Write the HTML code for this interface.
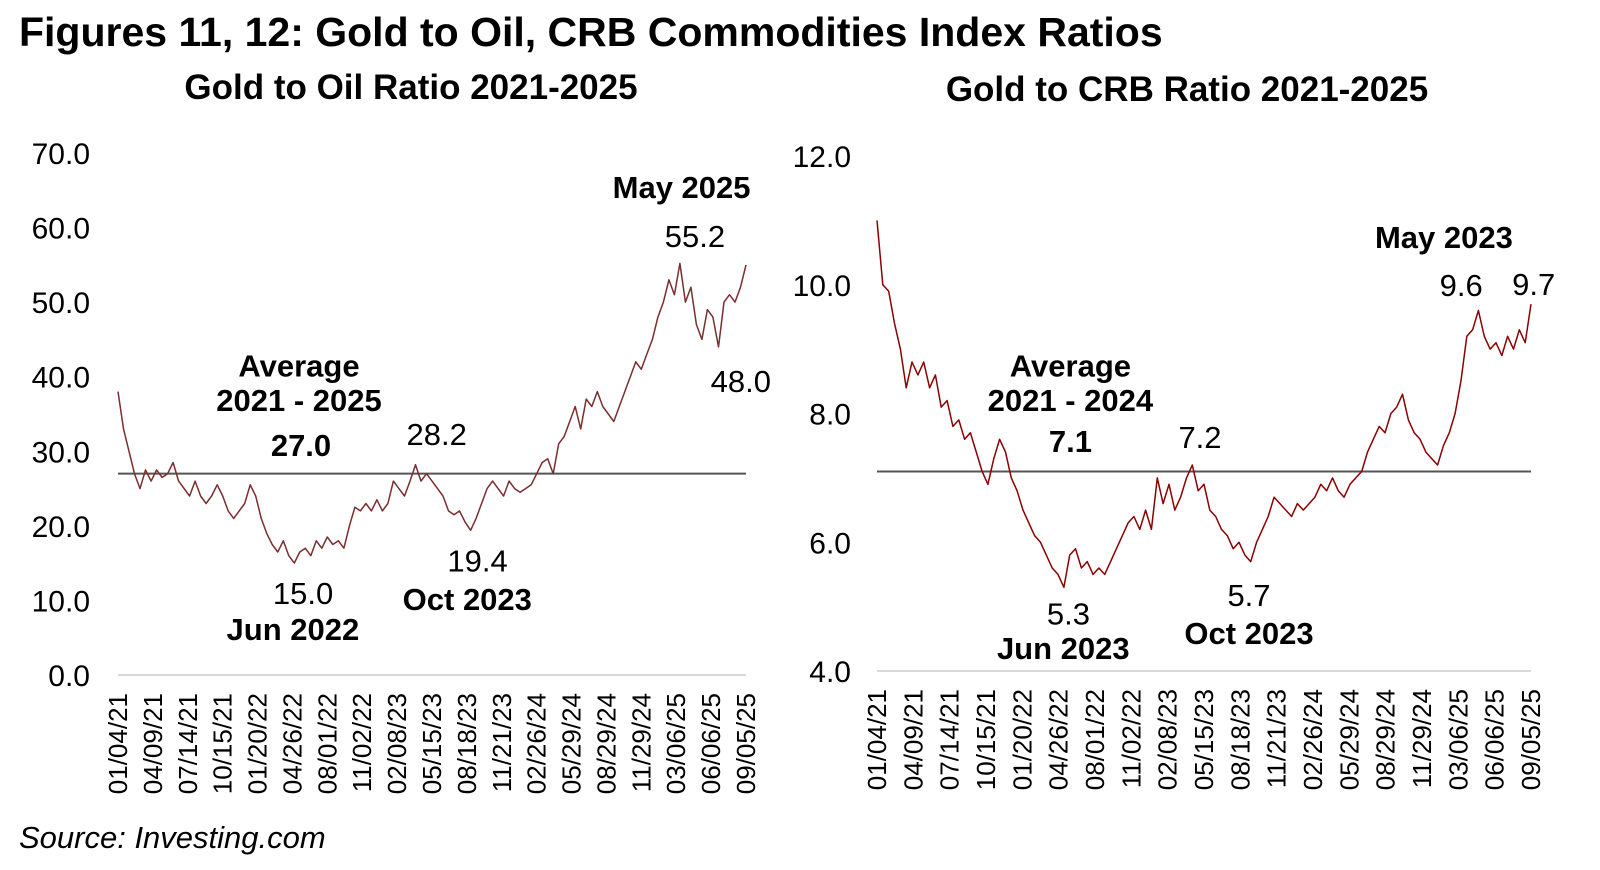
<!DOCTYPE html>
<html><head><meta charset="utf-8"><style>
body{margin:0;background:#fff;}
svg{display:block;font-family:"Liberation Sans",Arial,sans-serif;}
</style></head><body>
<svg id="c" width="1600" height="870" viewBox="0 0 1600 870">
<text x="19" y="46" font-size="41" font-weight="bold" fill="#000">Figures 11, 12: Gold to Oil, CRB Commodities Index Ratios</text>
<text x="411" y="99" font-size="35" font-weight="bold" text-anchor="middle">Gold to Oil Ratio 2021-2025</text>
<text x="1187" y="101" font-size="35" font-weight="bold" text-anchor="middle">Gold to CRB Ratio 2021-2025</text>
<text x="19" y="848" font-size="31" font-style="italic">Source: Investing.com</text>
<g id="L"></g>
<g id="R"></g>
</svg>
<script>
const dateLabels=["01/04/21","04/09/21","07/14/21","10/15/21","01/20/22","04/26/22","08/01/22","11/02/22","02/08/23","05/15/23","08/18/23","11/21/23","02/26/24","05/29/24","08/29/24","11/29/24","03/06/25","06/06/25","09/05/25"];
const oilTicks=[0,10,20,30,40,50,60,70];
const crbTicks=[4,6,8,10,12];
const oilAverage=27.0;
const crbAverage=7.1;
const oilValues=[38,33,30,27,25,27.5,26,27.5,26.5,27,28.5,26,25,24,26,24,23,24,25.5,24,22,21,22,23,25.5,24,21,19,17.5,16.5,18,16,15,16.5,17,16,18,17,18.5,17.5,18,17,20,22.5,22,23,22,23.5,22,23,26,25,24,26,28.2,26,27,26,25,24,22,21.5,22,20.5,19.4,21,23,25,26,25,24,26,25,24.5,25,25.5,27,28.5,29,27,31,32,34,36,33,37,36,38,36,35,34,36,38,40,42,41,43,45,48,50,53,51,55.2,50,52,47,45,49,48,44,50,51,50,52,55];
const crbValues=[11.0,10.0,9.9,9.4,9.0,8.4,8.8,8.6,8.8,8.4,8.6,8.1,8.2,7.8,7.9,7.6,7.7,7.4,7.1,6.9,7.3,7.6,7.4,7.0,6.8,6.5,6.3,6.1,6.0,5.8,5.6,5.5,5.3,5.8,5.9,5.6,5.7,5.5,5.6,5.5,5.7,5.9,6.1,6.3,6.4,6.2,6.5,6.2,7.0,6.6,6.9,6.5,6.7,7.0,7.2,6.8,6.9,6.5,6.4,6.2,6.1,5.9,6.0,5.8,5.7,6.0,6.2,6.4,6.7,6.6,6.5,6.4,6.6,6.5,6.6,6.7,6.9,6.8,7.0,6.8,6.7,6.9,7.0,7.1,7.4,7.6,7.8,7.7,8.0,8.1,8.3,7.9,7.7,7.6,7.4,7.3,7.2,7.5,7.7,8.0,8.5,9.2,9.3,9.6,9.2,9.0,9.1,8.9,9.2,9.0,9.3,9.1,9.7];

const NS="http://www.w3.org/2000/svg";
const S=1/0.98;
function mk(p,tag,at,txt){const e=document.createElementNS(NS,tag);for(const k in at)e.setAttribute(k,at[k]);if(txt!=null)e.textContent=txt;p.appendChild(e);return e;}

function chart(g,cfg){
  const x0=cfg.x0,x1=cfg.x1,yTop=cfg.yTop,yBot=cfg.yBot,vmin=cfg.ticks[0],vmax=cfg.ticks[cfg.ticks.length-1];
  const ys=v=>yBot-(v-vmin)/(vmax-vmin)*(yBot-yTop);
  const xs=i=>x0+i/(cfg.values.length-1)*(x1-x0);
  cfg.ticks.forEach(t=>{
    const e=mk(g,"text",{x:cfg.tickX,y:ys(t)+11,"font-size":30,"text-anchor":"end",fill:"#000"},t.toFixed(1));
    
    
  });
  const ax=mk(g,"line",{x1:x0,x2:x1,y1:yBot,y2:yBot,stroke:"#d9d9d9","stroke-width":2});
  
  
  dateLabels.forEach((d,i)=>{
    const x=x0+i/(dateLabels.length-1)*(x1-x0);
    const e=mk(g,"text",{x:0,y:0,"font-size":26,"text-anchor":"end",transform:`translate(${x+9},${yBot+18}) rotate(-90)`},d);
    
    
  });
  const avg=mk(g,"line",{x1:x0,x2:x1,y1:ys(cfg.avg),y2:ys(cfg.avg),stroke:"#555","stroke-width":2});
  
  
  const d=cfg.values.map((v,i)=>(i?"L":"M")+xs(i).toFixed(1)+","+ys(v).toFixed(1)).join("");
  const p=mk(g,"path",{d:d,fill:"none",stroke:cfg.color,"stroke-width":1.5,"stroke-linejoin":"round"});
  
  
}
chart(document.getElementById("L"),{x0:118,x1:746,yTop:153,yBot:675,ticks:oilTicks,values:oilValues,avg:oilAverage,tickX:90,color:"#7a2e2e"});
chart(document.getElementById("R"),{x0:877,x1:1531,yTop:156,yBot:671,ticks:crbTicks,values:crbValues,avg:crbAverage,tickX:851,color:"#8b0000"});

const notes=[
 [668,194,"May 2025",1],[681,242,"55.2",0],[293,369,"Average",1],[293,403,"2021 - 2025",1],[295,447,"27.0",1],[428,436,"28.2",0],[468,560,"19.4",0],[458,598,"Oct 2023",1],[297,592,"15.0",0],[287,627,"Jun 2022",1],[726,384,"48.0",0],
 [1415,243,"May 2023",1],[1432,290,"9.6",0],[1503,289,"9.7",0],[1049,369,"Average",1],[1049,403,"2021 - 2024",1],[1049,443,"7.1",1],[1176,439,"7.2",0],[1224,594,"5.7",0],[1224,631,"Oct 2023",1],[1047,612,"5.3",0],[1042,646,"Jun 2023",1]
];
const svg=document.getElementById("c");
notes.forEach(n=>{
  const e=mk(svg,"text",{x:(n[0]*S).toFixed(1),y:(n[1]*S).toFixed(1),"font-size":31,"font-weight":n[3]?"bold":"normal","text-anchor":"middle"},n[2]);
  
  
});
</script>
</body></html>
